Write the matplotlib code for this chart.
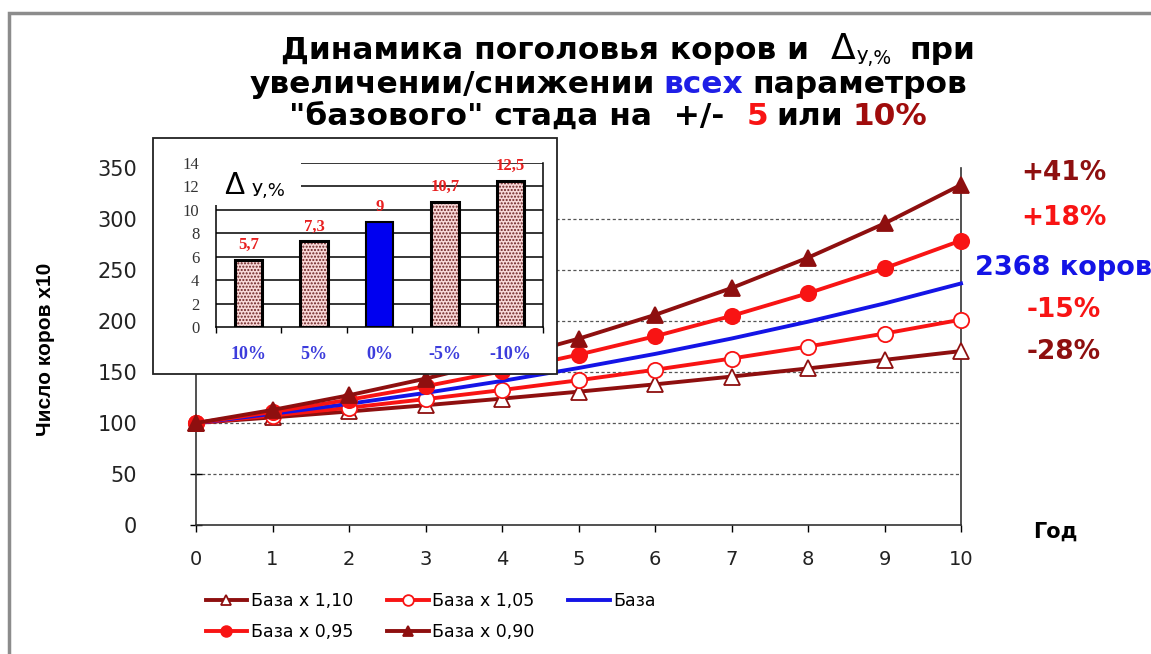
import matplotlib.pyplot as plt
from matplotlib.patches import Rectangle
from matplotlib.ticker import FixedLocator, NullFormatter

plt.rcParams['font.family'] = ['DejaVu Sans']

# поголовье коров (x10) по годам для каждого варианта
years = list(range(11))
base_110 = [100, 105.5, 111.3, 117.4, 123.9, 130.7, 137.9, 145.5, 153.5, 161.9, 170.5]
base_105 = [100, 107.3, 115.0, 123.4, 132.3, 141.9, 152.2, 163.2, 175.0, 187.7, 201.3]
base = [100, 109.0, 118.8, 129.5, 141.2, 153.9, 167.7, 182.8, 199.3, 217.2, 236.8]
base_095 = [100, 110.8, 122.8, 136.0, 150.7, 167.0, 185.0, 205.0, 227.2, 251.7, 278.9]
base_090 = [100, 112.8, 127.2, 143.5, 161.9, 182.6, 206.0, 232.3, 262.1, 295.6, 333.5]

# годовой прирост, %
delta_cats = ['10%', '5%', '0%', '-5%', '-10%']
delta_vals = [5.7, 7.3, 9.0, 10.7, 12.5]

DARK = '#8e0f0f'
RED = '#f81414'
BLUE = '#1414e6'

W, H = 1151, 654
fig = plt.figure(figsize=(W / 100, H / 100), dpi=100)


def fx(px):
    return px / W


def fy(py):
    return 1 - py / H


# рамка
fig.patches.append(Rectangle((fx(9), -0.1), 2, fy(13) + 0.1, transform=fig.transFigure,
                             fill=False, edgecolor='#8c8c8c', lw=2.5, zorder=0))

ax = fig.add_axes([fx(196), fy(525), fx(961) - fx(196), fy(168) - fy(525)])
ax.set_xlim(0, 10)
ax.set_ylim(0, 350)

series = [
    (base_110, DARK, '^', 'white', 'База х 1,10'),
    (base_105, RED, 'o', 'white', 'База х 1,05'),
    (base, BLUE, None, None, 'База'),
    (base_095, RED, 'o', RED, 'База х 0,95'),
    (base_090, DARK, '^', DARK, 'База х 0,90'),
]
handles = []
for vals, color, marker, face, label in series:
    ln, = ax.plot(years, vals, color=color, lw=2.8, marker=marker, ms=11,
                  markerfacecolor=face, markeredgecolor=color, markeredgewidth=1.3,
                  label=label, clip_on=False, zorder=3)
    handles.append(ln)

for y in range(50, 350, 50):
    ax.axhline(y, color='#555555', lw=0.9, ls=(0, (2.5, 2)), zorder=1)

ax.spines['top'].set_visible(False)
for s in ['left', 'bottom', 'right']:
    ax.spines[s].set_color('#333333')
    ax.spines[s].set_linewidth(1.2)
ax.set_xticks(years)
ax.set_yticks(range(0, 351, 50))
ax.tick_params(axis='y', direction='inout', length=9, width=1, pad=38,
               labelsize=15, labelcolor='#222222')
ax.tick_params(axis='x', direction='out', length=5, width=1, pad=13,
               labelsize=14, labelcolor='#222222')
ax.tick_params(axis='y', right=False)

fig.text(fx(46), fy(349), 'Число коров х10', rotation=90, ha='center', va='center',
         fontsize=15, weight='bold', family='Liberation Sans')
fig.text(fx(1055), fy(532), 'Год', ha='center', va='center', fontsize=15, weight='bold')

# итоговые отклонения от базы
final_base = base[-1]
right_labels = [
    (base_090[-1], DARK, 173),
    (base_095[-1], RED, 218),
    (base_105[-1], RED, 310),
    (base_110[-1], DARK, 352),
]
for val, color, py in right_labels:
    pct = round((val / final_base - 1) * 100)
    fig.text(fx(1064), fy(py), f'{pct:+d}%', color=color, ha='center', va='center',
             fontsize=19, weight='bold')
fig.text(fx(975), fy(268), f'{round(final_base * 10)} коров', color=BLUE,
         ha='left', va='center', fontsize=19.5, weight='bold')

# порядок заполнения по строкам
order = [0, 3, 1, 4, 2]
leg = ax.legend([handles[i] for i in order], [series[i][4] for i in order],
                loc='upper left', bbox_to_anchor=(fx(190), fy(576)),
                bbox_transform=fig.transFigure, ncol=3, frameon=False,
                fontsize=12.5, handlelength=2.4, handletextpad=0.2,
                columnspacing=1.95, labelspacing=0.75, markerscale=0.7)

# вставка: прирост по вариантам
fig.patches.append(Rectangle((fx(153), fy(374)), fx(557) - fx(153), fy(138) - fy(374),
                             transform=fig.transFigure, facecolor='white',
                             edgecolor='#222222', lw=1.3, zorder=1))
ins = fig.add_axes([fx(216), fy(327), fx(543) - fx(216), fy(163) - fy(327)], zorder=2)
ins.set_facecolor('none')
ins.set_xlim(-0.5, 4.5)
ins.set_ylim(0, 14)
for y in range(2, 15, 2):
    ins.axhline(y, color='black', lw=1.1, zorder=1)

xs = range(len(delta_vals))
for i, v in zip(xs, delta_vals):
    if delta_cats[i] == '0%':
        ins.bar(i, v, width=0.42, color='#0000f0', edgecolor='black', lw=1.5, zorder=2)
    else:
        ins.bar(i, v, width=0.42, color='#f8d8d8', hatch='.....', edgecolor='#6a2020',
                lw=0, zorder=2)
        ins.bar(i, v, width=0.42, fill=False, edgecolor='black', lw=2.2, zorder=2)
    ins.annotate(f'{v:g}'.replace('.', ','), (i, v), xytext=(0, 5), textcoords='offset points',
                 ha='center', va='bottom', color='#e82020', fontsize=12, weight='bold',
                 family='Liberation Serif')

for s in ['left', 'right', 'bottom', 'top']:
    ins.spines[s].set_color('black')
    ins.spines[s].set_linewidth(1.1)
ins.spines['top'].set_visible(False)
ins.set_yticks(range(0, 15, 2))
ins.set_xticks(list(xs))
ins.set_xticklabels(delta_cats)
ins.xaxis.set_minor_locator(FixedLocator([-0.5, 0.5, 1.5, 2.5, 3.5, 4.5]))
ins.xaxis.set_minor_formatter(NullFormatter())
ins.tick_params(axis='x', which='major', length=0, pad=14, labelsize=13, labelcolor='#3c3cdc')
ins.tick_params(axis='x', which='minor', direction='out', length=4, width=1)
ins.tick_params(axis='y', length=0, pad=12, labelsize=12, labelcolor='#333333')
for t in ins.get_xticklabels():
    t.set_family('Liberation Serif')
    t.set_weight('bold')
for t in ins.get_yticklabels():
    t.set_family('Liberation Serif')

ins.add_patch(Rectangle((-0.02, 0.745), 0.28, 0.3, transform=ins.transAxes,
                        facecolor='white', edgecolor='none', zorder=4, clip_on=False))
ins.text(0.025, 0.86, 'Δ', transform=ins.transAxes, fontsize=22, ha='left', va='center',
         zorder=5, family='Liberation Sans')
ins.text(0.11, 0.83, 'У,%', transform=ins.transAxes, fontsize=13, ha='left', va='center',
         zorder=5)

# заголовок из цветных фрагментов
renderer = fig.canvas.get_renderer()


def title_line(py, cx, parts, size=22.5):
    texts = []
    for s, color, fs, dy, weight, gap in parts:
        t = fig.text(0, fy(py + dy), s, color=color, fontsize=fs or size, weight=weight,
                     va='baseline', ha='left')
        texts.append((t, gap))
    widths = [t.get_window_extent(renderer).width for t, _ in texts]
    total = sum(widths) + sum(g for _, g in texts)
    x = cx - total / 2
    for (t, gap), w in zip(texts, widths):
        t.set_x(fx(x))
        x += w + gap


title_line(59, 628, [
    ('Динамика поголовья коров и', 'black', None, 0, 'bold', 22),
    ('Δ', 'black', 26, 0, 'normal', 1),
    ('У,%', 'black', 13.5, 5, 'normal', 18),
    ('при', 'black', None, 0, 'bold', 0),
])
title_line(93, 608, [
    ('увеличении/снижении', 'black', None, 0, 'bold', 9),
    ('всех', '#1e1ee6', None, 0, 'bold', 9),
    ('параметров', 'black', None, 0, 'bold', 0),
])
title_line(125, 608, [
    ('"базового" стада на  +/-', 'black', None, 0, 'bold', 22),
    ('5', RED, None, 0, 'bold', 9),
    ('или', 'black', None, 0, 'bold', 9),
    ('10%', '#a00c0c', None, 0, 'bold', 0),
])

fig.savefig('out.png', dpi=100)
